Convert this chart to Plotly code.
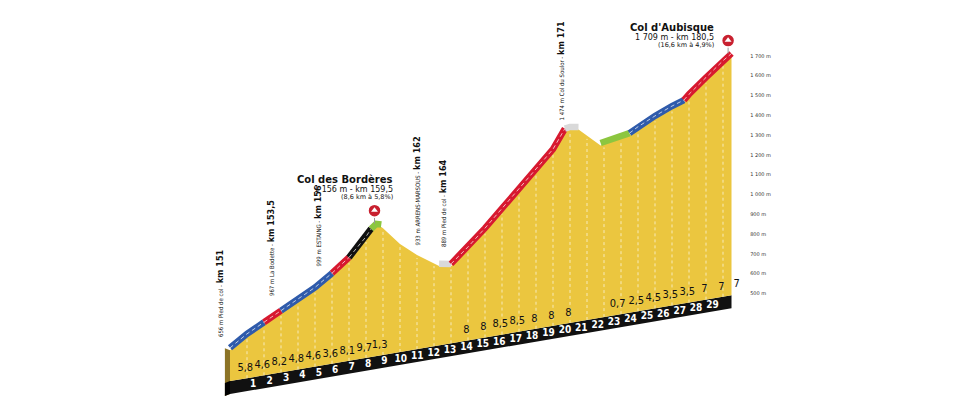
import plotly.graph_objects as go

# profile (km from start of climb = km 151, elevation in m)
km = [0, 1, 2, 3, 4, 5, 6, 7, 8, 8.3, 8.6, 8.9, 9, 10, 11, 12, 12.3, 13, 14, 15, 16, 17, 18, 19,
      19.7, 20, 20.5, 21, 21.8, 22, 23, 23.5, 24, 25, 26, 26.7, 27, 28, 29, 29.5]
elev = [656, 712, 756, 800, 843, 888, 945, 1010, 1100, 1135, 1156, 1148, 1140, 1045, 975, 920, 900, 889,
        960, 1040, 1125, 1210, 1290, 1380, 1474, 1478, 1470, 1430, 1370, 1372, 1385, 1395, 1420, 1460,
        1495, 1515, 1540, 1610, 1680, 1709]

# colour of the road band (start km, end km, colour)
bands = [(0, 2, "#2f5bab"), (2, 3, "#d7192f"), (3, 6, "#2f5bab"), (6, 7, "#d7192f"),
         (7, 8.3, "#111111"), (8.3, 8.9, "#8cc63f"), (12.3, 13, "#d9d9d9"), (13, 19.7, "#d7192f"),
         (19.7, 20.5, "#d9d9d9"), (21.8, 23.5, "#8cc63f"), (23.5, 26.7, "#2f5bab"), (26.7, 29.5, "#d7192f")]

gradients = ["5,8", "4,6", "8,2", "4,8", "4,6", "3,6", "8,1", "9,7", "1,3", "", "", "", "", "",
             "8", "8", "8,5", "8,5", "8", "8", "8", "", "", "0,7", "2,5", "4,5", "3,5", "3,5", "7", "7", "7"]
grad_km = [1, 2, 3, 4, 5, 6, 7, 8, 8.9, 10, 11, 12, 13, 13.5,
           14, 15, 16, 17, 18, 19, 20, 21, 22, 22.9, 24, 25, 26, 27, 28, 29, 29.9]
col_numbers = list(range(1, 30))
elev_ticks = [500, 600, 700, 800, 900, 1000, 1100, 1200, 1300, 1400, 1500, 1600, 1700]

SLOPE = 14.7   # perspective tilt, m per km
OFF = 440


def sk(k, e):
    return e - OFF + SLOPE * k


def base(k):
    return sk(k, 500)


fig = go.Figure()

# black base bar
fig.add_trace(go.Scatter(x=[0, 29.5, 29.5, 0], y=[base(0), base(29.5), base(29.5) - 65, base(0) - 65],
                         fill="toself", fillcolor="#111", line=dict(width=0), mode="lines", hoverinfo="skip"))
# left side face
fig.add_trace(go.Scatter(x=[-0.3, 0, 0, -0.3, -0.3], y=[base(0) - 75, base(0) - 65, sk(0, elev[0]), sk(0, elev[0]) + 10, base(0) - 75],
                         fill="toself", fillcolor="#8c7427", line=dict(width=0), mode="lines", hoverinfo="skip"))
fig.add_trace(go.Scatter(x=[-0.3, 0, 0, -0.3], y=[base(0) - 75, base(0) - 65, base(0), base(0) - 10],
                         fill="toself", fillcolor="#000", line=dict(width=0), mode="lines", hoverinfo="skip"))
# yellow profile
px = km + [29.5, 0]
py = [sk(k, e) for k, e in zip(km, elev)] + [base(29.5), base(0)]
fig.add_trace(go.Scatter(x=px, y=py, fill="toself", fillcolor="#ebc63f", line=dict(width=0),
                         mode="lines", hoverinfo="skip"))
# km dashed lines
vx, vy = [], []
for k, e in zip(km, elev):
    if float(k).is_integer() and 0 < k < 29.5:
        vx += [k, k, None]
        vy += [base(k), sk(k, e) - 15, None]
fig.add_trace(go.Scatter(x=vx, y=vy, mode="lines", line=dict(color="rgba(255,255,255,0.8)", width=0.8, dash="dot"),
                         hoverinfo="skip"))
# road bands
for a, b, c in bands:
    bx = [k for k in km if a <= k <= b]
    by = [sk(k, e) + 12 for k, e in zip(km, elev) if a <= k <= b]
    fig.add_trace(go.Scatter(x=bx, y=by, mode="lines", line=dict(color=c, width=6.5), hoverinfo="skip"))
    if c not in ("#d9d9d9", "#8cc63f"):
        fig.add_trace(go.Scatter(x=bx, y=by, mode="lines", line=dict(color="white", width=0.7, dash="4px,3px"),
                                 hoverinfo="skip"))

# gradient labels
fig.add_trace(go.Scatter(x=[k - 0.1 for k in grad_km], y=[base(k) + 50 for k in grad_km], mode="text",
                         text=gradients, textfont=dict(family="Liberation Sans Narrow, DejaVu Sans Condensed", size=11, color="#111"),
                         hoverinfo="skip"))
# column numbers on black bar
nk = [n + 0.4 - n * 0.035 for n in col_numbers]
fig.add_trace(go.Scatter(x=nk, y=[base(k) - 36 for k in nk], mode="text", text=[f"<b>{n}</b>" for n in col_numbers],
                         textfont=dict(family="Liberation Sans Narrow, DejaVu Sans Condensed", size=10, color="white"), hoverinfo="skip"))

# summit markers
for k, e in [(8.5, 1156), (29.3, 1709)]:
    fig.add_trace(go.Scatter(x=[k, k], y=[sk(k, e) + 15, sk(k, e) + 70], mode="lines",
                             line=dict(color="#999", width=1), hoverinfo="skip"))
    fig.add_trace(go.Scatter(x=[k], y=[sk(k, e) + 80], mode="markers",
                             marker=dict(size=13, color="#c8202f", line=dict(color="white", width=1.5)), hoverinfo="skip"))
    fig.add_trace(go.Scatter(x=[k], y=[sk(k, e) + 82], mode="markers",
                             marker=dict(size=6, symbol="triangle-up", color="white"), hoverinfo="skip"))

# elevation ticks
fig.add_trace(go.Scatter(x=[30.6] * len(elev_ticks), y=elev_ticks, mode="text",
                         text=[f"{t:,}".replace(",", " ") + " m" for t in elev_ticks],
                         textposition="middle right",
                         textfont=dict(family="DejaVu Sans", size=5, color="#333"), hoverinfo="skip"))


def P(x, y):
    return x / 960, 1 - y / 403


def ann(x, y, text, size, anchor="right", bold=False, angle=0, yanchor="middle"):
    ax, ay = P(x, y)
    fig.add_annotation(x=ax, y=ay, xref="paper", yref="paper", text=f"<b>{text}</b>" if bold else text,
                       showarrow=False, xanchor=anchor, yanchor=yanchor, textangle=angle,
                       font=dict(family="DejaVu Sans", size=size, color="#111"))


ann(387, 171, "Col des Bordères", 10, bold=True)
ann(387, 181, "1 156 m - km 159,5", 8)
ann(387, 189, "(8,6 km à 5,8%)", 6.5)
ann(708, 19, "Col d'Aubisque", 10, bold=True)
ann(708, 29, "1 709 m - km 180,5", 8)
ann(708, 37, "(16,6 km à 4,9%)", 6.5)

side = [(212, 331, "656 m Pied de col", "km 151"),
        (263, 290, "967 m La Bodette", "km 153,5"),
        (309, 261, "999 m ESTAING", "km 156"),
        (409, 240, "933 m ARRENS-MARSOUS", "km 162"),
        (435, 241, "889 m Pied de col", "km 164"),
        (553, 115, "1 474 m Col du Soulor", "km 171")]
for x, y, t, kmt in side:
    ax, ay = P(x, y)
    fig.add_annotation(x=ax, y=ay, xref="paper", yref="paper", showarrow=False, textangle=-90,
                       xanchor="center", yanchor="bottom",
                       text=f"{t} - <b><span style='font-size:9px'>{kmt}</span></b>",
                       font=dict(family="Liberation Sans Narrow, DejaVu Sans Condensed", size=6, color="#111"))

fig.update_layout(width=960, height=403, margin=dict(l=0, r=0, t=0, b=0), showlegend=False,
                  paper_bgcolor="white", plot_bgcolor="white",
                  xaxis=dict(range=[-222 / 17, (960 - 222) / 17], visible=False),
                  yaxis=dict(range=[500 - 117 / 0.198, 500 + 286 / 0.198], visible=False))
fig.write_html("out.html")
